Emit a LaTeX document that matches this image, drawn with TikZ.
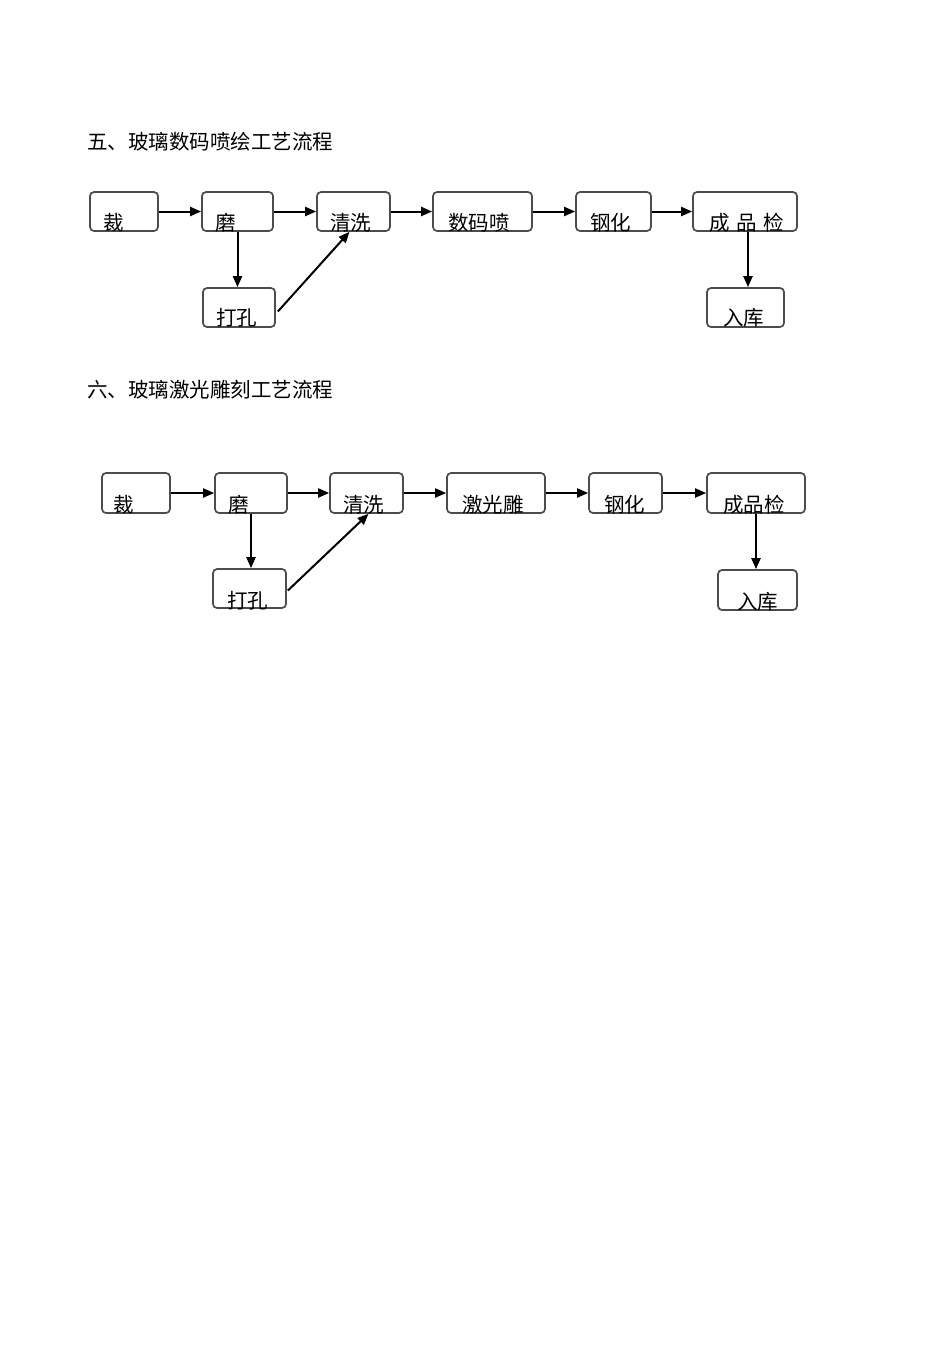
\documentclass[tikz,border=0pt]{standalone}
\usepackage{fontspec}
\setmainfont{Noto Sans CJK SC}
\usetikzlibrary{arrows.meta}
\tikzset{
  box/.style={draw=black!70, line width=1.7pt, rounded corners=4pt, inner sep=0pt},
  lbl/.style={inner sep=0pt, anchor=west, font=\fontsize{20.5}{22}\selectfont},
  ttl/.style={inner sep=0pt, anchor=west, font=\fontsize{20.5}{22}\selectfont},
  arr/.style={line width=2pt, -{Triangle[length=11pt,width=9pt]}}
}
\newcommand{\bx}[5]{\node[box, minimum width=#4pt-#2pt, minimum height=#5pt-#3pt] (#1) at ({(#2+#4)/2},{(#3+#5)/2}) {};}
\begin{document}
\begin{tikzpicture}[x=1pt,y=-1pt]
\useasboundingbox (0,0) rectangle (950,1345);
% Section 5
\node[ttl] (t1) at (87,142) {五、玻璃数码喷绘工艺流程};
\bx{a1}{90}{192}{158}{231}
\bx{b1}{202}{192}{273}{231}
\bx{c1}{317}{192}{390}{231}
\bx{e1}{433}{192}{532}{231}
\bx{f1}{576}{192}{651}{231}
\bx{g1}{693}{192}{797}{231}
\bx{d1}{203}{288}{275}{327}
\bx{h1}{707}{288}{784}{327}
\node[lbl] (la1) at (103,223) {裁};
\node[lbl] (lb1) at (215,223) {磨};
\node[lbl] (lc1) at (330,223) {清洗};
\node[lbl] (le1) at (448,223) {数码喷};
\node[lbl] (lf1) at (590,223) {钢化};
\node[lbl] (lg1) at (709,223) {成\,\,品\,\,检};
\node[lbl] (ld1) at (216,318) {打孔};
\node[lbl] (lh1) at (723,318) {入库};
\draw[arr] (a1.east) -- (b1.west);
\draw[arr] (b1.east) -- (c1.west);
\draw[arr] (c1.east) -- (e1.west);
\draw[arr] (e1.east) -- (f1.west);
\draw[arr] (f1.east) -- (g1.west);
\draw[arr] (b1.south) -- (b1.south |- d1.north);
\draw[arr] ([xshift=2pt,yshift=-4pt]d1.east) -- ([xshift=-4pt]c1.south);
\draw[arr] ([xshift=3pt]g1.south) -- ([xshift=3pt]g1.south |- h1.north);
% Section 6
\node[ttl] (t2) at (87,390) {六、玻璃激光雕刻工艺流程};
\bx{a2}{102}{473}{170}{513}
\bx{b2}{215}{473}{287}{513}
\bx{c2}{330}{473}{403}{513}
\bx{e2}{447}{473}{545}{513}
\bx{f2}{589}{473}{662}{513}
\bx{g2}{707}{473}{805}{513}
\bx{d2}{213}{569}{286}{608}
\bx{h2}{718}{570}{797}{610}
\node[lbl] (la2) at (113,505) {裁};
\node[lbl] (lb2) at (228,505) {磨};
\node[lbl] (lc2) at (343,505) {清洗};
\node[lbl] (le2) at (462,505) {激光雕};
\node[lbl] (lf2) at (604,505) {钢化};
\node[lbl] (lg2) at (723,505) {成品检};
\node[lbl] (ld2) at (227,601) {打孔};
\node[lbl] (lh2) at (737,602) {入库};
\draw[arr] (a2.east) -- (b2.west);
\draw[arr] (b2.east) -- (c2.west);
\draw[arr] (c2.east) -- (e2.west);
\draw[arr] (e2.east) -- (f2.west);
\draw[arr] (f2.east) -- (g2.west);
\draw[arr] (b2.south) -- (b2.south |- d2.north);
\draw[arr] ([xshift=1pt,yshift=-2pt]d2.east) -- ([xshift=2pt]c2.south);
\draw[arr] (g2.south) -- (g2.south |- h2.north);
\end{tikzpicture}
\end{document}
